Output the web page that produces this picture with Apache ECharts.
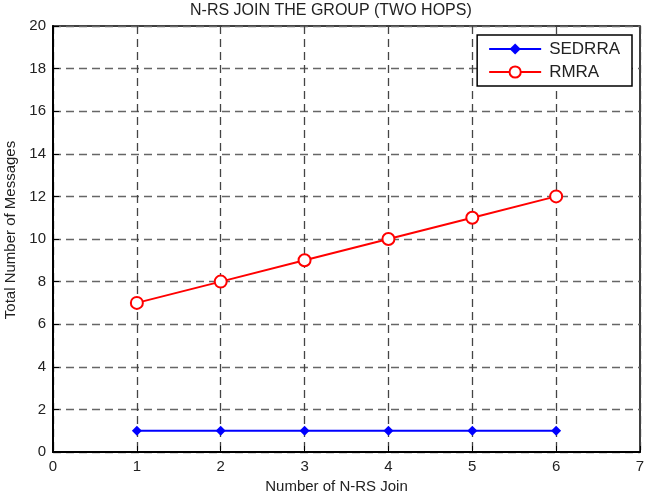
<!DOCTYPE html>
<html>
<head>
<meta charset="utf-8">
<script src="https://cdn.jsdelivr.net/npm/echarts@6/dist/echarts.min.js"></script>
<style>
  html, body { margin: 0; padding: 0; background: #fff; }
  #chart { width: 650px; height: 492px; }
</style>
</head>
<body>
<div id="chart"></div>
<script>
// data
var joins = [1, 2, 3, 4, 5, 6]
var sedrra = [1, 1, 1, 1, 1, 1]
var rmra = [7, 8, 9, 10, 11, 12]

var myChart = echarts.init(document.getElementById('chart'))
var font = 'Liberation Sans, Arial, sans-serif'

function pairs (xs, ys) {
  return xs.map(function (x, i) { return [x, ys[i]] })
}

var option = {
  animation: false,
  title: {
    text: 'N-RS JOIN THE GROUP (TWO HOPS)',
    left: 190,
    top: 3,
    padding: 0,
    textStyle: { fontFamily: font, fontSize: 16, fontWeight: 'normal', color: '#222' }
  },
  legend: {
    data: ['SEDRRA', 'RMRA'],
    orient: 'vertical',
    right: 18,
    top: 35,
    itemWidth: 52,
    itemHeight: 14,
    itemGap: 5,
    padding: [5, 12, 5, 11],
    borderColor: '#000',
    borderWidth: 1.5,
    backgroundColor: '#fff',
    textStyle: { fontFamily: font, fontSize: 17, color: '#222', lineHeight: 18, padding: [0, 0, 0, 3] }
  },
  grid: {
    left: 53,
    right: 10,
    top: 26,
    bottom: 40,
    outerBoundsMode: 'none',
    show: true,
    borderColor: '#000',
    borderWidth: 1.5
  },
  xAxis: {
    type: 'value',
    min: 0,
    max: 7,
    interval: 1,
    name: 'Number of N-RS Join',
    nameLocation: 'middle',
    nameGap: 25,
    nameTextStyle: { fontFamily: font, fontSize: 15, color: '#222', padding: [0, 20, 0, 0] },
    axisLine: { lineStyle: { color: '#000', width: 2 } },
    axisTick: { inside: true, length: 6, lineStyle: { color: '#000' } },
    axisLabel: { fontFamily: font, fontSize: 15, color: '#222', margin: 7 },
    splitLine: { show: true, lineStyle: { color: '#444', type: [8, 5], width: 1.3 } }
  },
  yAxis: {
    type: 'value',
    min: 0,
    max: 20,
    interval: 2,
    name: 'Total Number of Messages',
    nameLocation: 'middle',
    nameGap: 35,
    nameTextStyle: { fontFamily: font, fontSize: 15, color: '#222', padding: [0, 0, 0, 18] },
    axisLine: { lineStyle: { color: '#000', width: 2 } },
    axisTick: { inside: true, length: 6, lineStyle: { color: '#000' } },
    axisLabel: { fontFamily: font, fontSize: 15, color: '#222', margin: 7 },
    splitLine: { show: true, lineStyle: { color: '#666', type: [8, 5], width: 1.3 } }
  },
  series: [
    {
      name: 'SEDRRA',
      type: 'line',
      data: pairs(joins, sedrra),
      symbol: 'diamond',
      symbolSize: 10,
      lineStyle: { color: '#0000ff', width: 2 },
      itemStyle: { color: '#0000ff' }
    },
    {
      name: 'RMRA',
      type: 'line',
      data: pairs(joins, rmra),
      symbol: 'emptyCircle',
      symbolSize: 12,
      lineStyle: { color: '#ff0000', width: 2 },
      itemStyle: { color: '#ff0000', borderColor: '#ff0000', borderWidth: 2 }
    }
  ]
}

myChart.setOption(option)
</script>
</body>
</html>
